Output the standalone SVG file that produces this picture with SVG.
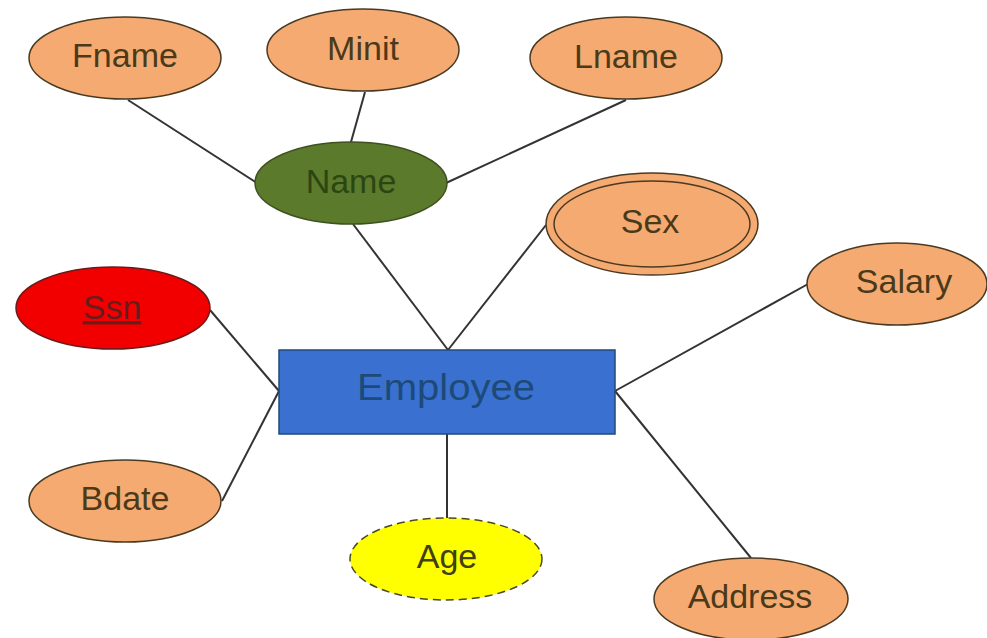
<svg xmlns="http://www.w3.org/2000/svg" width="987" height="638" viewBox="0 0 987 638">
  <style>
    .attr { fill: #f5aa72; stroke: #4a3a22; stroke-width: 1.5; }
    .lbl { font-family: "Liberation Sans", Arial, sans-serif; font-size: 34px; text-anchor: middle; fill: #4a3a1a; }
    .edge { stroke: #333; stroke-width: 2; fill: none; }
  </style>
  <rect width="987" height="638" fill="#ffffff"/>

  <g id="connectors">
    <line class="edge" x1="128" y1="100" x2="257" y2="183"/>
    <line class="edge" x1="365" y1="92" x2="351" y2="142"/>
    <line class="edge" x1="626" y1="100" x2="446" y2="183"/>
    <line class="edge" x1="353" y1="224" x2="448" y2="350"/>
    <line class="edge" x1="546" y1="225" x2="448" y2="350"/>
    <line class="edge" x1="808" y1="284" x2="615" y2="391"/>
    <line class="edge" x1="210" y1="310" x2="279" y2="391"/>
    <line class="edge" x1="222" y1="501" x2="279" y2="391"/>
    <line class="edge" x1="447" y1="434" x2="447" y2="518"/>
    <line class="edge" x1="615" y1="391" x2="751" y2="558"/>
  </g>

  <g id="fname">
    <ellipse class="attr" cx="125" cy="58" rx="96" ry="41"/>
    <text class="lbl" x="125" y="67">Fname</text>
  </g>
  <g id="minit">
    <ellipse class="attr" cx="363" cy="50" rx="96" ry="41"/>
    <text class="lbl" x="363" y="60">Minit</text>
  </g>
  <g id="lname">
    <ellipse class="attr" cx="626" cy="58" rx="96" ry="41"/>
    <text class="lbl" x="626" y="68">Lname</text>
  </g>
  <g id="name">
    <ellipse cx="351" cy="183" rx="96" ry="41" fill="#5b7a2c" stroke="#3e5220" stroke-width="1.5"/>
    <text class="lbl" x="351" y="193" style="fill:#2c4612">Name</text>
  </g>
  <g id="sex">
    <ellipse class="attr" cx="652" cy="224" rx="106" ry="51"/>
    <ellipse class="attr" cx="652" cy="224" rx="98" ry="43"/>
    <text class="lbl" x="650" y="233">Sex</text>
  </g>
  <g id="salary">
    <ellipse class="attr" cx="897" cy="284" rx="90" ry="41"/>
    <text class="lbl" x="904" y="293">Salary</text>
  </g>
  <g id="ssn">
    <ellipse cx="113" cy="308" rx="97" ry="41" fill="#f20000" stroke="#6a1a1a" stroke-width="1.5"/>
    <text class="lbl" x="112" y="319" style="fill:#6a1c1c" text-decoration="underline">Ssn</text>
  </g>
  <g id="employee">
    <rect x="279" y="350" width="336" height="84" fill="#3a71d0" stroke="#22487a" stroke-width="1.5"/>
    <text class="lbl" x="446" y="400" style="fill:#1d4a78;font-size:36px" textLength="178" lengthAdjust="spacingAndGlyphs">Employee</text>
  </g>
  <g id="bdate">
    <ellipse class="attr" cx="125" cy="501" rx="96" ry="41"/>
    <text class="lbl" x="125" y="510">Bdate</text>
  </g>
  <g id="age">
    <ellipse cx="446" cy="559" rx="96" ry="41" fill="#ffff00" stroke="#4a4a22" stroke-width="1.5" stroke-dasharray="8 5"/>
    <text class="lbl" x="447" y="568" style="fill:#404010">Age</text>
  </g>
  <g id="address">
    <ellipse class="attr" cx="751" cy="599" rx="97" ry="41"/>
    <text class="lbl" x="750" y="608">Address</text>
  </g>
</svg>
